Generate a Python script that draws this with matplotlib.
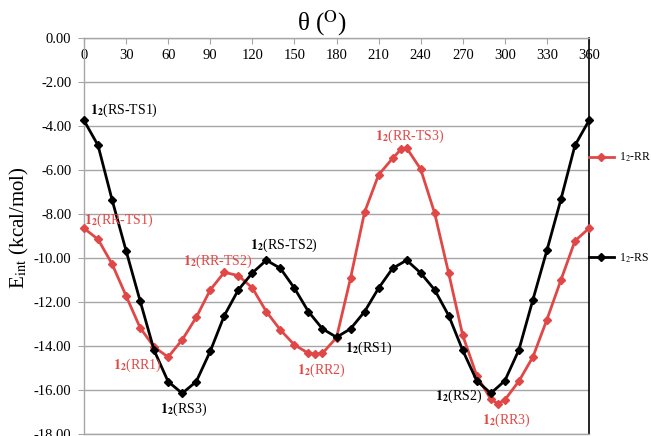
import matplotlib
matplotlib.use('Agg')
import matplotlib.pyplot as plt
from matplotlib.ticker import FuncFormatter

RR_COLOR = '#e04848'
RS_COLOR = '#000000'
GRID_COLOR = '#a6a6a6'

plt.rcParams['font.family'] = ['Liberation Serif', 'DejaVu Serif']
plt.rcParams['mathtext.fontset'] = 'stix'

# torsion angle (deg) and interaction energy (kcal/mol)
theta_rr = [0, 10, 20, 30, 40, 50, 60, 70, 80, 90, 100, 110, 120, 130,
            140, 150, 160, 165, 170, 180, 190, 200, 210, 220, 226, 230,
            240, 250, 260, 270, 280, 290, 295, 300, 310, 320, 330, 340,
            350, 360]
eint_rr = [-8.65, -9.15, -10.27, -11.72, -13.17, -14.05, -14.50, -13.72,
           -12.70, -11.45, -10.65, -10.80, -11.36, -12.44, -13.27, -13.95,
           -14.33, -14.37, -14.33, -13.62, -10.92, -7.92, -6.22, -5.47,
           -5.06, -5.00, -5.96, -7.97, -10.70, -13.52, -15.35, -16.42,
           -16.62, -16.45, -15.60, -14.50, -12.80, -11.00, -9.22, -8.65]

theta_rs = [0, 10, 20, 30, 40, 50, 60, 70, 80, 90, 100, 110, 120, 130,
            140, 150, 160, 170, 180, 190, 200, 210, 220, 230, 240, 250,
            260, 270, 280, 290, 300, 310, 320, 330, 340, 350, 360]
eint_rs = [-3.75, -4.88, -7.35, -9.67, -11.95, -14.20, -15.62, -16.15,
           -15.62, -14.24, -12.62, -11.45, -10.68, -10.10, -10.47, -11.37,
           -12.44, -13.22, -13.60, -13.22, -12.44, -11.37, -10.47, -10.10,
           -10.68, -11.45, -12.62, -14.20, -15.58, -16.15, -15.58, -14.18,
           -11.90, -9.65, -7.33, -4.88, -3.75]

xticks = list(range(0, 361, 30))
yticks = [0, -2, -4, -6, -8, -10, -12, -14, -16, -18]

# structure labels: (name, colour, theta, energy)
NOTES = [
    ('RS-TS1', RS_COLOR, 4.3, -3.27),
    ('RR-TS1', RR_COLOR, 0.0, -8.27),
    ('RR-TS2', RR_COLOR, 70.6, -10.14),
    ('RS-TS2', RS_COLOR, 118.3, -9.41),
    ('RR1', RR_COLOR, 20.7, -14.86),
    ('RS3', RS_COLOR, 54.2, -16.90),
    ('RR2', RR_COLOR, 151.8, -15.10),
    ('RS1', RS_COLOR, 186.0, -14.10),
    ('RR-TS3', RR_COLOR, 207.4, -4.45),
    ('RS2', RS_COLOR, 250.2, -16.30),
    ('RR3', RR_COLOR, 283.7, -17.36),
]


def style_axes(ax):
    ax.set_xlim(0, 360)
    ax.set_ylim(-18, 0)
    ax.set_xticks(xticks)
    ax.set_yticks(yticks)
    ax.yaxis.set_major_formatter(FuncFormatter(lambda v, p: '%.2f' % v))
    ax.grid(axis='y', color=GRID_COLOR, linewidth=1.0)
    ax.set_axisbelow(True)

    for side in ['left', 'top', 'bottom']:
        ax.spines[side].set_color(GRID_COLOR)
        ax.spines[side].set_linewidth(1.0)
    ax.spines['right'].set_color('black')
    ax.spines['right'].set_linewidth(1.2)

    ax.tick_params(axis='x', top=True, labeltop=True, bottom=False,
                   labelbottom=False, direction='in', length=4,
                   color=GRID_COLOR, pad=-17, labelsize=10.5)
    ax.tick_params(axis='y', direction='out', length=4, color=GRID_COLOR,
                   pad=5, labelsize=10.5)

    ax.set_ylabel(r'E$_{\mathrm{int}}$ (kcal/mol)', fontsize=15)
    ax.yaxis.set_label_coords(-0.105, 0.52)


def main():
    fig = plt.figure(figsize=(6.51, 4.36), dpi=100)
    ax = fig.add_axes([84 / 651, 2 / 436, 505 / 651, 396 / 436])

    ax.plot(theta_rr, eint_rr, color=RR_COLOR, lw=2.0, marker='D', ms=4.5,
            label=r'1$_2$-RR', clip_on=False, zorder=3)
    ax.plot(theta_rs, eint_rs, color=RS_COLOR, lw=2.0, marker='D', ms=4.5,
            label=r'1$_2$-RS', clip_on=False, zorder=4)

    style_axes(ax)

    for name, col, x, y in NOTES:
        ax.text(x, y, r'$\mathbf{1}_{\mathbf{2}}$(' + name + ')', color=col,
                fontsize=10, ha='left', va='center', zorder=5)

    ax.legend(loc='center left', bbox_to_anchor=(1.0, 0.571), frameon=False,
              fontsize=8.5, borderaxespad=0, borderpad=0, labelspacing=7.4,
              handlelength=2.1, handletextpad=0.4, numpoints=1)

    fig.text(322 / 651, 1 - 23 / 436, r'θ ($^{\mathrm{O}}$)', fontsize=18,
             ha='center', va='center')

    fig.savefig('out.png', dpi=100)


if __name__ == '__main__':
    main()
